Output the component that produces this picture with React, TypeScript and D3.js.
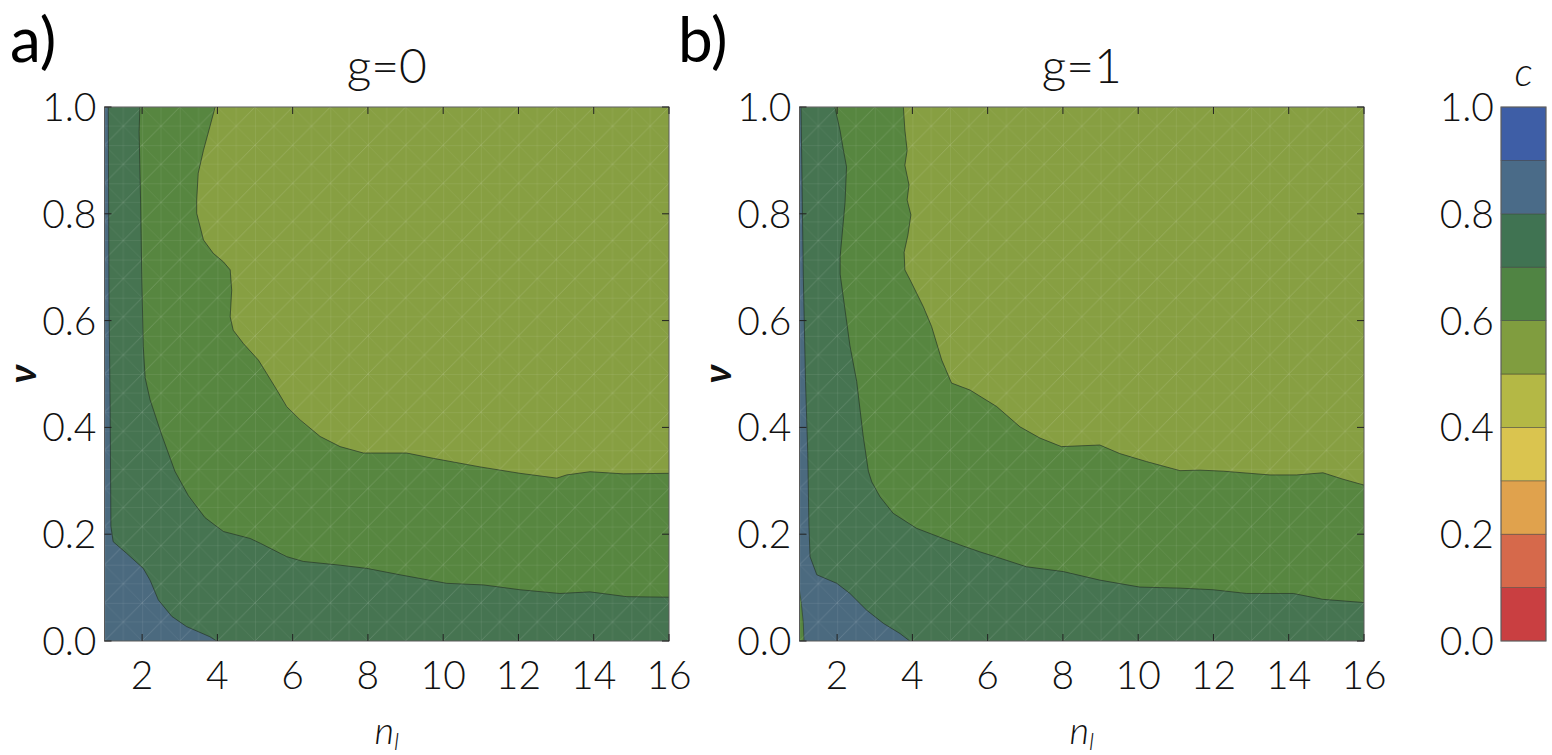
import React from 'react';
import * as d3 from 'd3';

type Pt = [number, number];

const xTicks = [2, 4, 6, 8, 10, 12, 14, 16];
const yTicks = [0, 0.2, 0.4, 0.6, 0.8, 1.0];
const cbEdges = [0, 0.1, 0.2, 0.3, 0.4, 0.5, 0.6, 0.7, 0.8, 0.9, 1.0];
const cbTicks = [0, 0.2, 0.4, 0.6, 0.8, 1.0];
const cbColors = ['#c93f41', '#d6694b', '#e0a24d', '#dac44f', '#b4b845', '#809d3f', '#508443', '#407352', '#4a6b88', '#3e5ea6'];

// fills used inside the plots: c > 0.8, 0.7-0.8, 0.6-0.7, 0.5-0.6
const bandFills = ['#4b6a7f', '#467451', '#578640', '#879f42'];
const levels = [0.8, 0.7, 0.6];

// g = 0 contour lines, [n_l, nu]
const a80: Pt[] = [
  [1.1, 1.0], [1.12, 0.63], [1.15, 0.43], [1.17, 0.215], [1.23, 0.186], [1.59, 0.164],
  [2.03, 0.136], [2.21, 0.114], [2.43, 0.077], [2.79, 0.046], [3.18, 0.027], [3.8, 0.008], [3.98, 0],
];
const a70: Pt[] = [
  [1.94, 1.0], [1.92, 0.954], [1.96, 0.82], [1.99, 0.686], [2.03, 0.552], [2.08, 0.493],
  [2.21, 0.452], [2.52, 0.386], [2.87, 0.318], [3.23, 0.272], [3.67, 0.231], [4.16, 0.205],
  [4.87, 0.192], [5.14, 0.183], [5.84, 0.158], [6.28, 0.149], [7.26, 0.142], [7.97, 0.136],
  [8.85, 0.124], [10.09, 0.108], [11.07, 0.105], [12.04, 0.096], [13.1, 0.089], [13.9, 0.092],
  [14.88, 0.083], [16, 0.082],
];
const a60: Pt[] = [
  [3.94, 1.0], [3.8, 0.963], [3.63, 0.919], [3.49, 0.876], [3.45, 0.826], [3.45, 0.801],
  [3.63, 0.751], [3.89, 0.726], [4.16, 0.71], [4.34, 0.695], [4.38, 0.657], [4.34, 0.607],
  [4.42, 0.582], [4.69, 0.557], [5.09, 0.526], [5.31, 0.501], [5.58, 0.47], [5.84, 0.439],
  [6.2, 0.414], [6.73, 0.383], [7.26, 0.364], [7.88, 0.352], [8.5, 0.352], [9.03, 0.352],
  [9.74, 0.342], [10.98, 0.326], [12.04, 0.314], [13.02, 0.305], [13.28, 0.311], [13.9, 0.317],
  [14.79, 0.313], [16, 0.314],
];

// g = 1 contour lines
const b80: Pt[] = [
  [1.04, 1.0], [1.1, 0.687], [1.16, 0.486], [1.22, 0.351], [1.25, 0.217], [1.28, 0.158],
  [1.46, 0.124], [1.99, 0.108], [2.34, 0.089], [2.78, 0.058], [3.23, 0.033], [3.67, 0.014], [3.93, 0],
];
const b70: Pt[] = [
  [1.94, 1.0], [2.08, 0.955], [2.16, 0.922], [2.25, 0.888], [2.21, 0.821], [2.08, 0.72],
  [2.08, 0.687], [2.21, 0.62], [2.34, 0.553], [2.52, 0.486], [2.69, 0.385], [2.83, 0.318],
  [2.92, 0.298], [3.14, 0.27], [3.49, 0.239], [4.11, 0.211], [5.26, 0.18], [5.79, 0.167],
  [6.33, 0.155], [7.03, 0.139], [8.01, 0.13], [8.98, 0.114], [10.04, 0.101], [11.11, 0.099],
  [11.99, 0.096], [12.88, 0.089], [14.12, 0.089], [14.91, 0.078], [16, 0.072],
];
const b60: Pt[] = [
  [3.76, 1.0], [3.8, 0.957], [3.86, 0.919], [3.8, 0.891], [3.91, 0.854], [3.86, 0.826],
  [3.96, 0.798], [3.88, 0.76], [3.78, 0.728], [3.8, 0.695], [3.94, 0.676], [4.29, 0.626],
  [4.51, 0.589], [4.78, 0.526], [5.04, 0.483], [5.53, 0.47], [6.24, 0.439], [6.86, 0.401],
  [7.39, 0.38], [7.96, 0.364], [8.98, 0.367], [9.51, 0.351], [10.22, 0.336], [11.11, 0.319],
  [11.64, 0.32], [12.26, 0.318], [13.5, 0.311], [14.21, 0.311], [14.91, 0.315], [15.44, 0.303],
  [16, 0.292],
];
// small low-c pocket at the bottom-left corner of g = 1
const bPocket: Pt[] = [[1, 0.095], [1.05, 0.07], [1.1, 0.035], [1.12, 0], [1, 0]];

const W = 564.5;
const TOP = 107;
const BOTTOM = 641;
const FONT = 'Lato, "Open Sans", sans-serif';

function closeRegion(pts: Pt[]): Pt[] {
  const out = pts.slice();
  if (pts[pts.length - 1][1] === 0) out.push([16, 0]);
  out.push([16, 1]);
  return out;
}

const Panel = ({ id, left, title, letter, letterX, contours, pocket }: {
  id: string; left: number; title: string; letter: string; letterX: number; contours: Pt[][]; pocket?: Pt[];
}) => {
  const x = d3.scaleLinear().domain([1, 16]).range([left, left + W]);
  const y = d3.scaleLinear().domain([0, 1]).range([BOTTOM, TOP]);
  const line = d3.line<Pt>().x(d => x(d[0])).y(d => y(d[1]));
  const cx = left + W / 2;
  const cw = x(2) - x(1);
  const ch = (BOTTOM - TOP) / 14;

  return (
    <g>
      <defs>
        <clipPath id={`clip-${id}`}>
          <rect x={left} y={TOP} width={W} height={BOTTOM - TOP} />
        </clipPath>
        <pattern id={`mesh-${id}`} patternUnits="userSpaceOnUse" x={left} y={TOP} width={cw} height={ch}>
          <path d={`M0,0H${cw}M0,0V${ch}M0,${ch}L${cw},0`} stroke="#ffffff" strokeOpacity={0.2} strokeWidth={0.7} fill="none" />
          <path d={`M0,0L${cw},${ch}M0,${ch / 2}H${cw}M${cw / 2},0V${ch}`} stroke="#ffffff" strokeOpacity={0.1} strokeWidth={0.6} fill="none" />
        </pattern>
      </defs>
      <g clipPath={`url(#clip-${id})`}>
        <rect x={left} y={TOP} width={W} height={BOTTOM - TOP} fill={bandFills[0]} />
        {contours.map((c, i) => (
          <path key={levels[i]} d={line(closeRegion(c)) + 'Z'} fill={bandFills[i + 1]} />
        ))}
        {pocket && <path d={line(pocket) + 'Z'} fill={bandFills[2]} stroke="#2c3a2e" strokeWidth={0.6} />}
        <rect x={left} y={TOP} width={W} height={BOTTOM - TOP} fill={`url(#mesh-${id})`} />
        {contours.map((c, i) => (
          <path key={'l' + levels[i]} d={line(c) || ''} fill="none" stroke="#263428" strokeOpacity={0.75} strokeWidth={0.9} />
        ))}
      </g>
      <rect x={left} y={TOP} width={W} height={BOTTOM - TOP} fill="none" stroke="#5a5a5a" strokeWidth={1} />
      {xTicks.map(t => (
        <g key={'xt' + t}>
          <line x1={x(t)} x2={x(t)} y1={BOTTOM} y2={BOTTOM - 7} stroke="#222" strokeWidth={1} />
          <line x1={x(t)} x2={x(t)} y1={TOP} y2={TOP + 7} stroke="#222" strokeWidth={1} />
          <text x={x(t)} y={689} textAnchor="middle" fontSize={39} fontWeight={300} fill="#111" fontFamily={FONT}>{t}</text>
        </g>
      ))}
      {yTicks.map(t => (
        <g key={'yt' + t}>
          <line x1={left} x2={left + 7} y1={y(t)} y2={y(t)} stroke="#222" strokeWidth={1} />
          <line x1={left + W} x2={left + W - 7} y1={y(t)} y2={y(t)} stroke="#222" strokeWidth={1} />
          <text x={left - 8} y={y(t) + 14} textAnchor="end" fontSize={39} fontWeight={300} fill="#111" fontFamily={FONT}>{t.toFixed(1)}</text>
        </g>
      ))}
      <text x={cx} y={83} textAnchor="middle" fontSize={48} fontWeight={300} fill="#111" fontFamily={FONT}>{title}</text>
      <text x={letterX} y={62} fontSize={62} fontWeight={400} fill="#000" fontFamily={FONT}>{letter}</text>
      <text x={cx} y={744} textAnchor="middle" fontSize={38} fontStyle="italic" fontWeight={300} fill="#111" fontFamily={FONT}>
        n<tspan fontSize={24} dy={6}>l</tspan>
      </text>
      <text transform={`translate(${left - 84},${(TOP + BOTTOM) / 2}) rotate(-90)`} textAnchor="middle" dominantBaseline="central"
        fontSize={38} fontStyle="italic" fontWeight={700} fill="#111" fontFamily={FONT}>ν</text>
    </g>
  );
};

const Colorbar = () => {
  const left = 1501;
  const width = 45;
  const y = d3.scaleLinear().domain([0, 1]).range([BOTTOM, TOP]);
  return (
    <g>
      {cbColors.map((c, i) => (
        <rect key={c} x={left} y={y(cbEdges[i + 1])} width={width} height={y(cbEdges[i]) - y(cbEdges[i + 1])}
          fill={c} stroke="#333" strokeOpacity={0.6} strokeWidth={0.7} />
      ))}
      <rect x={left} y={TOP} width={width} height={BOTTOM - TOP} fill="none" stroke="#666" strokeWidth={1} />
      {cbTicks.map(t => (
        <text key={t} x={1494} y={y(t) + 14} textAnchor="end" fontSize={39} fontWeight={300} fill="#111" fontFamily={FONT}>{t.toFixed(1)}</text>
      ))}
      <text x={left + width / 2} y={86} textAnchor="middle" fontSize={40} fontStyle="italic" fontWeight={300} fill="#111" fontFamily={FONT}>c</text>
    </g>
  );
};

export default function App() {
  return (
    <svg width={1552} height={755} style={{ position: 'absolute', left: 0, top: 0, background: '#fff' }}>
      <Panel id="a" left={104.5} title="g=0" letter="a)" letterX={10} contours={[a80, a70, a60]} />
      <Panel id="b" left={799.5} title="g=1" letter="b)" letterX={678} contours={[b80, b70, b60]} pocket={bPocket} />
      <Colorbar />
    </svg>
  );
}
